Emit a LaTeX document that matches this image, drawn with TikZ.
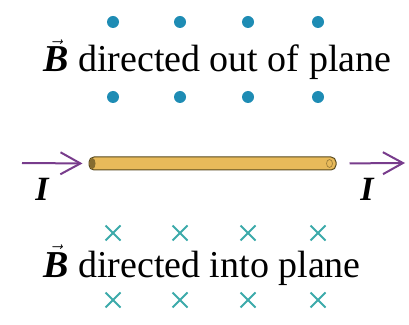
\documentclass[tikz,border=0pt]{standalone}
\usepackage{fontspec}
\setmainfont{Liberation Serif}
\usetikzlibrary{arrows.meta, positioning, shapes.misc}

\definecolor{fieldblue}{RGB}{30,140,180}
\definecolor{fieldteal}{RGB}{60,170,170}
\definecolor{currentpurple}{RGB}{120,60,140}
\definecolor{rodgold}{RGB}{232,186,90}
\definecolor{rodedge}{RGB}{90,75,30}

\tikzset{
  outdot/.style={circle, fill=fieldblue, inner sep=0pt, minimum size=12pt},
  intox/.style={cross out, draw=fieldteal, line width=2pt, inner sep=0pt, minimum size=13pt},
  current/.style={draw=currentpurple, line width=2pt, -{Straight Barb[length=20pt,width=22pt,line width=2pt]}},
  caption/.style={font=\fontsize{38}{42}\selectfont, inner sep=0pt, anchor=base west},
  curlabel/.style={font=\fontsize{34}{38}\selectfont\bfseries\itshape, inner sep=0pt, anchor=base}
}

\newcommand{\bvec}{$\vec{\mbox{\textbf{\textit{B}}}}$}

\begin{document}
\begin{tikzpicture}[x=1pt, y=1pt]
\useasboundingbox (0,0) rectangle (409,324);

% field out of the plane
\foreach \x [count=\i] in {113,180,248,318} {
  \node [outdot] (dotA\i) at (\x,302) {};
  \node [outdot] (dotB\i) at (\x,227) {};
}
\node [caption] (outtext) at (43,252) {\bvec\ directed out of plane};

% the rod and the current
\node [draw=rodedge, fill=rodgold, line width=1pt, rounded corners=5pt,
       minimum width=247pt, minimum height=13pt, inner sep=0pt] (rod) at (212.5,160.5) {};
\fill [rodedge!70!rodgold] (rod.west) ++(4,0) ellipse (3pt and 5.5pt);
\draw [rodedge!60!rodgold, line width=0.6pt] (rod.east) ++(-7,0) ellipse (3pt and 4pt);

\coordinate (inL) at (22,161);
\coordinate (outR) at (405,161);
\draw [current, shorten >=6pt] (inL) -- (rod.west);
\draw [current, shorten <=13pt] (rod.east) -- (outR);
\node [curlabel] (iL) at (42,124) {I};
\node [curlabel] (iR) at (367,124) {I};

% field into the plane
\foreach \x [count=\i] in {113,180,248,318} {
  \node [intox] (xA\i) at (\x,91) {};
  \node [intox] (xB\i) at (\x,24) {};
}
\node [caption] (intotext) at (43,47) {\bvec\ directed into plane};

\end{tikzpicture}
\end{document}
